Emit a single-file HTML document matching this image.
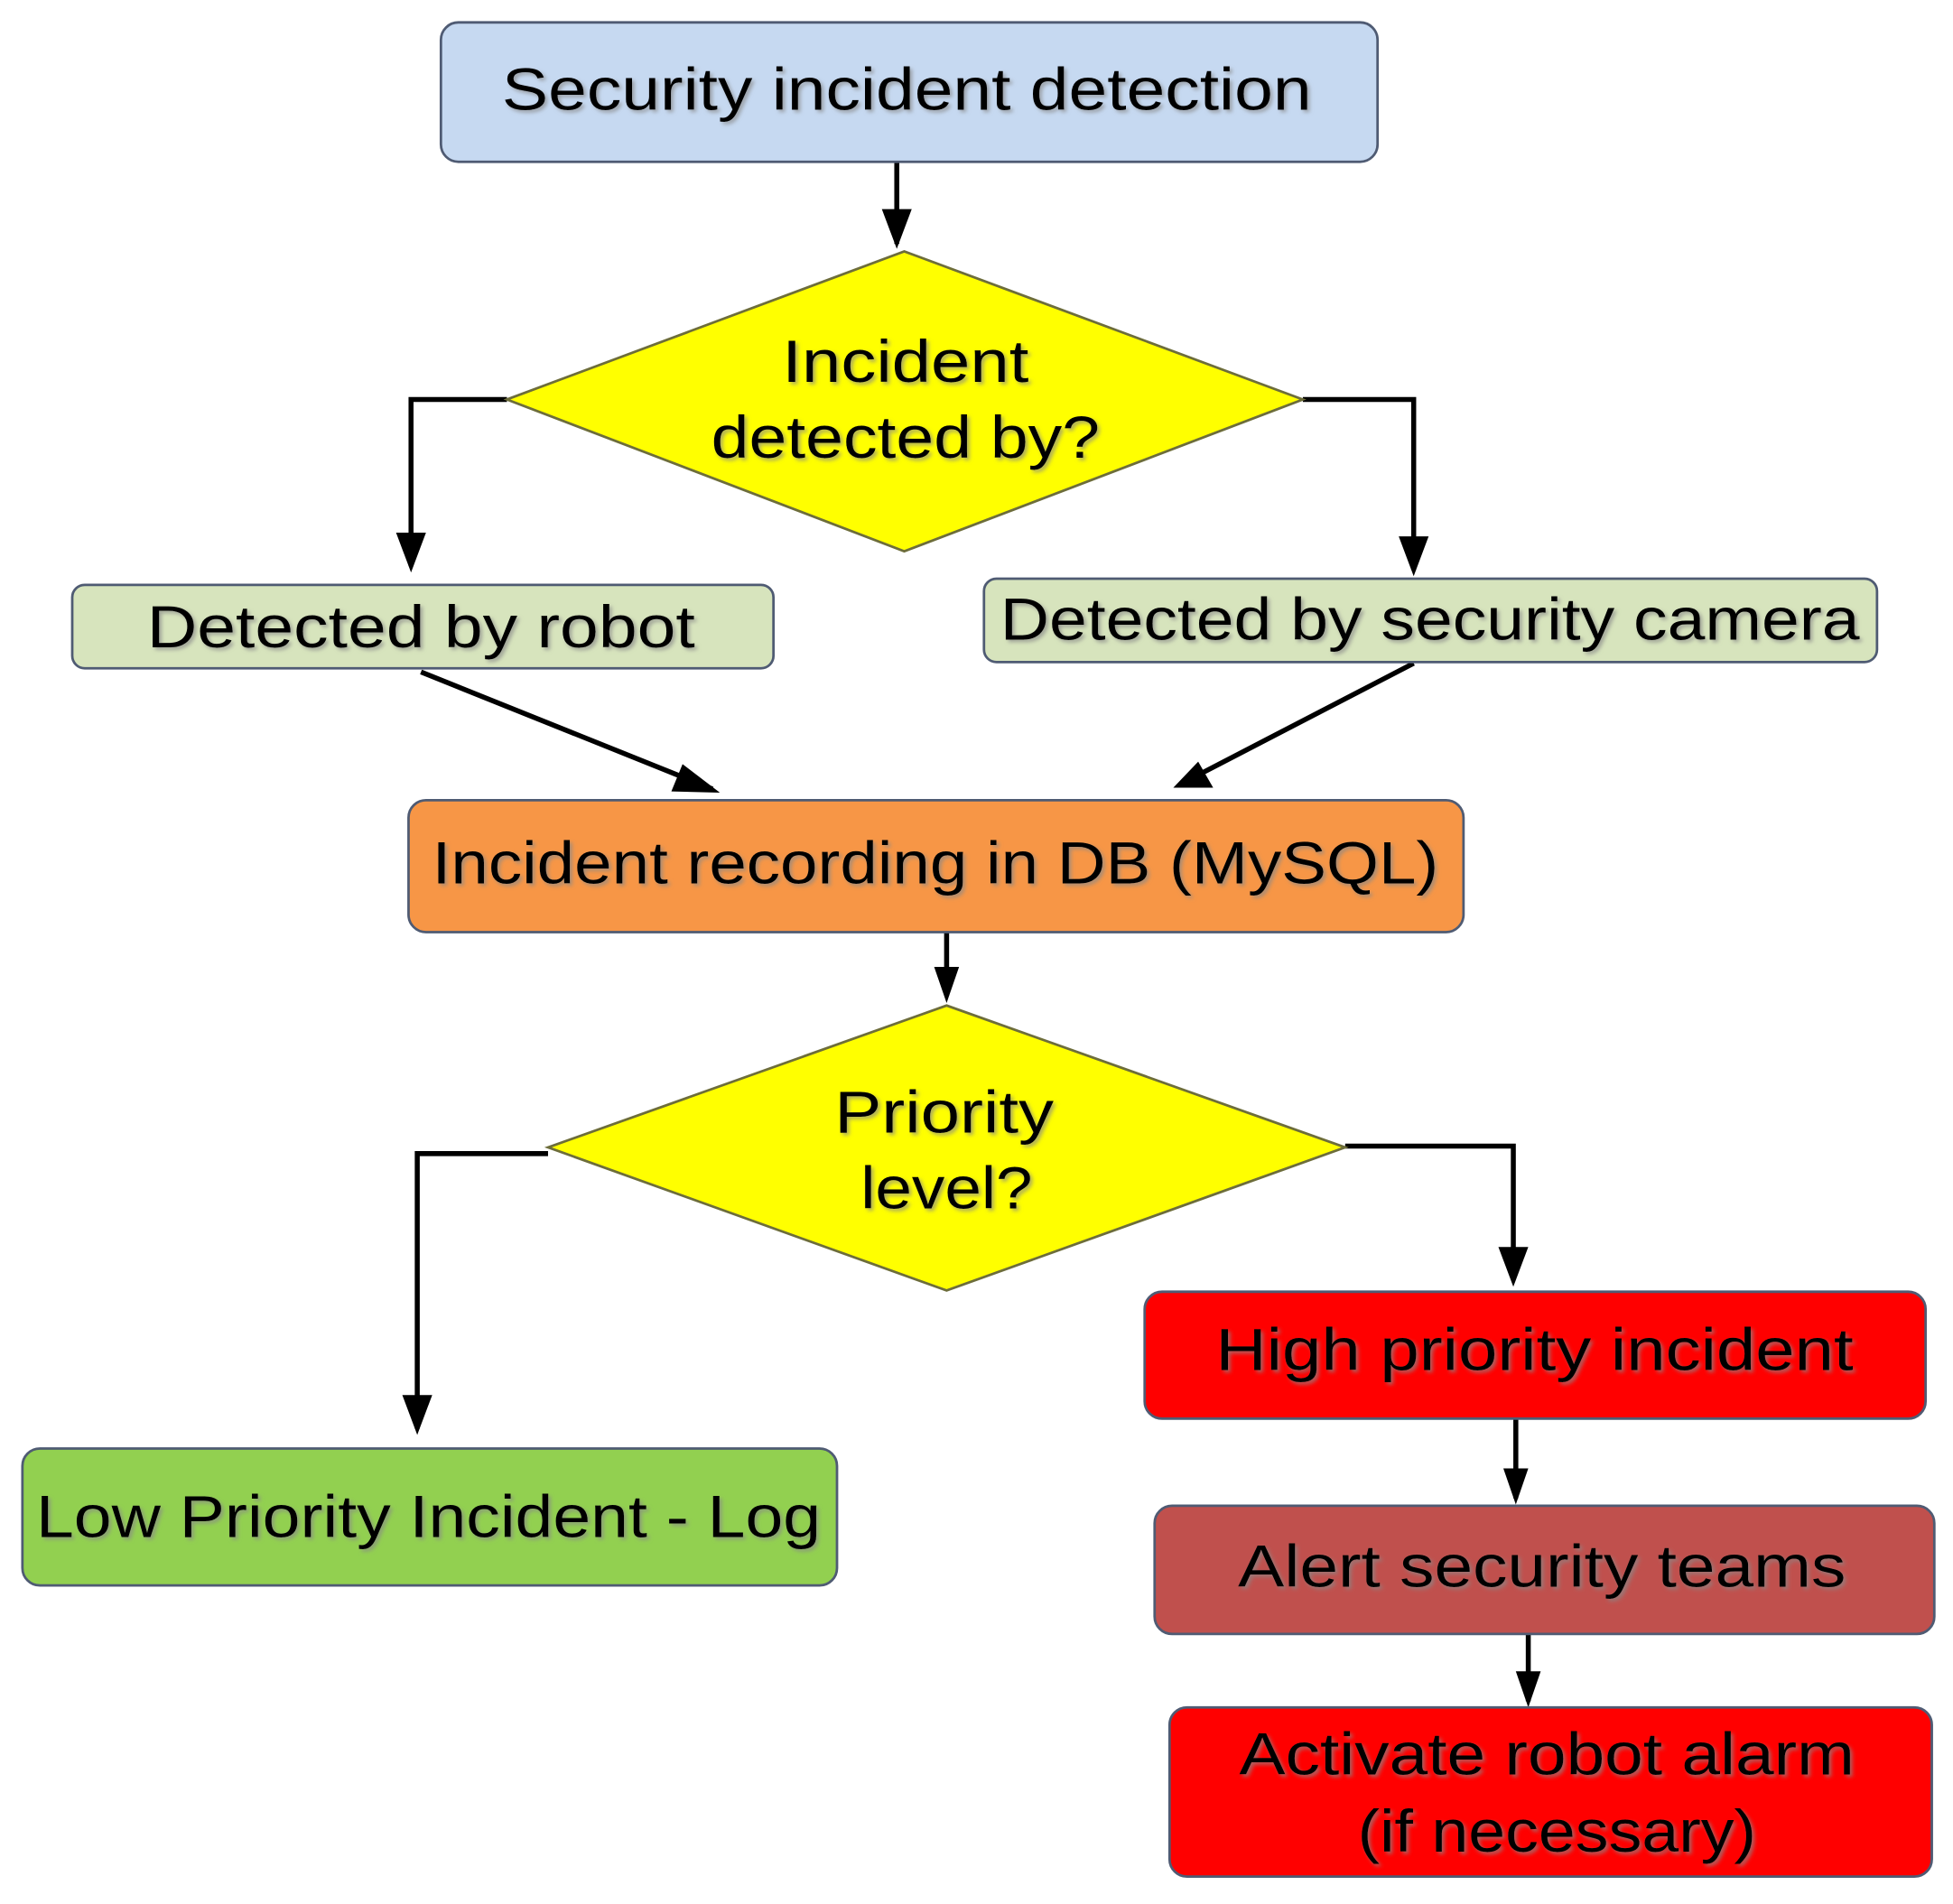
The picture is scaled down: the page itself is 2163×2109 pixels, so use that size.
<!DOCTYPE html>
<html><head><meta charset="utf-8"><style>
html,body{margin:0;padding:0;background:#fff;}
svg{display:block;}
text{font-family:"Liberation Sans",sans-serif;font-size:48px;fill:#000;text-anchor:middle;}
</style></head><body>
<svg width="2163" height="2109" viewBox="0 0 1568 1530" preserveAspectRatio="none" xmlns="http://www.w3.org/2000/svg">
<defs>
<marker id="a" viewBox="0 0 10 10" refX="9" refY="5" markerWidth="7" markerHeight="7" orient="auto" markerUnits="userSpaceOnUse">
</marker>
<filter id="s" x="-5%" y="-20%" width="110%" height="140%"><feDropShadow dx="2" dy="2" stdDeviation="1.5" flood-color="#888" flood-opacity="0.7"/></filter>
</defs>
<g stroke="#000" stroke-width="4" fill="none">
<path d="M720 130 V196"/>
<path d="M407 321 H330 V455"/>
<path d="M1046 321 H1135 V458"/>
<path d="M338 540 L572 634"/>
<path d="M1135 533 L948 630"/>
<path d="M760 749 V800"/>
<path d="M440 927 H335 V1148"/>
<path d="M1080 921 H1215 V1028"/>
<path d="M1217 1140 V1204"/>
<path d="M1227 1313 V1367"/>
</g>
<g fill="#000">
<polygon points="708,168 732,168 720,200"/>
<polygon points="318,428 342,428 330,460"/>
<polygon points="1123,431 1147,431 1135,463"/>
<polygon points="548,614 539,636 578,637"/>
<polygon points="962,612 974,633 942,633"/>
<polygon points="750,777 770,777 760,806"/>
<polygon points="323,1121 347,1121 335,1153"/>
<polygon points="1203,1002 1227,1002 1215,1034"/>
<polygon points="1207,1180 1227,1180 1217,1209"/>
<polygon points="1217,1343 1237,1343 1227,1372"/>
</g>
<g stroke="#4f5b73" stroke-width="2">
<rect x="354" y="18" width="752" height="112" rx="14" fill="#c6d9f1"/>
<polygon points="407,321 726,202 1046,321 726,443" fill="#ffff00" stroke="#6d6d3a"/>
<rect x="58" y="470" width="563" height="67" rx="10" fill="#d7e4bd"/>
<rect x="790" y="465" width="717" height="67" rx="10" fill="#d7e4bd"/>
<rect x="328" y="643" width="847" height="106" rx="14" fill="#f79646"/>
<polygon points="440,922 760,808 1080,922 760,1037" fill="#ffff00" stroke="#6d6d3a"/>
<rect x="18" y="1164" width="654" height="110" rx="14" fill="#92d050"/>
<rect x="919" y="1038" width="627" height="102" rx="14" fill="#ff0000"/>
<rect x="927" y="1210" width="626" height="103" rx="14" fill="#c0504d"/>
<rect x="939" y="1372" width="612" height="136" rx="14" fill="#ff0000"/>
</g>
<g filter="url(#s)">
<text x="728" y="88" textLength="650" lengthAdjust="spacingAndGlyphs">Security incident detection</text>
<text x="727" y="307" textLength="198" lengthAdjust="spacingAndGlyphs">Incident</text>
<text x="727" y="368" textLength="312" lengthAdjust="spacingAndGlyphs">detected by?</text>
<text x="338" y="520" textLength="440" lengthAdjust="spacingAndGlyphs">Detected by robot</text>
<text x="1148" y="514" textLength="690" lengthAdjust="spacingAndGlyphs">Detected by security camera</text>
<text x="751" y="710" textLength="808" lengthAdjust="spacingAndGlyphs">Incident recording in DB (MySQL)</text>
<text x="758" y="910" textLength="176" lengthAdjust="spacingAndGlyphs">Priority</text>
<text x="760" y="971" textLength="138" lengthAdjust="spacingAndGlyphs">level?</text>
<text x="344" y="1235" textLength="630" lengthAdjust="spacingAndGlyphs">Low Priority Incident - Log</text>
<text x="1232" y="1101" textLength="512" lengthAdjust="spacingAndGlyphs">High priority incident</text>
<text x="1238" y="1275" textLength="488" lengthAdjust="spacingAndGlyphs">Alert security teams</text>
<text x="1242" y="1426" textLength="494" lengthAdjust="spacingAndGlyphs">Activate robot alarm</text>
<text x="1250" y="1488" textLength="320" lengthAdjust="spacingAndGlyphs">(if necessary)</text>
</g>
</svg>
</body></html>
